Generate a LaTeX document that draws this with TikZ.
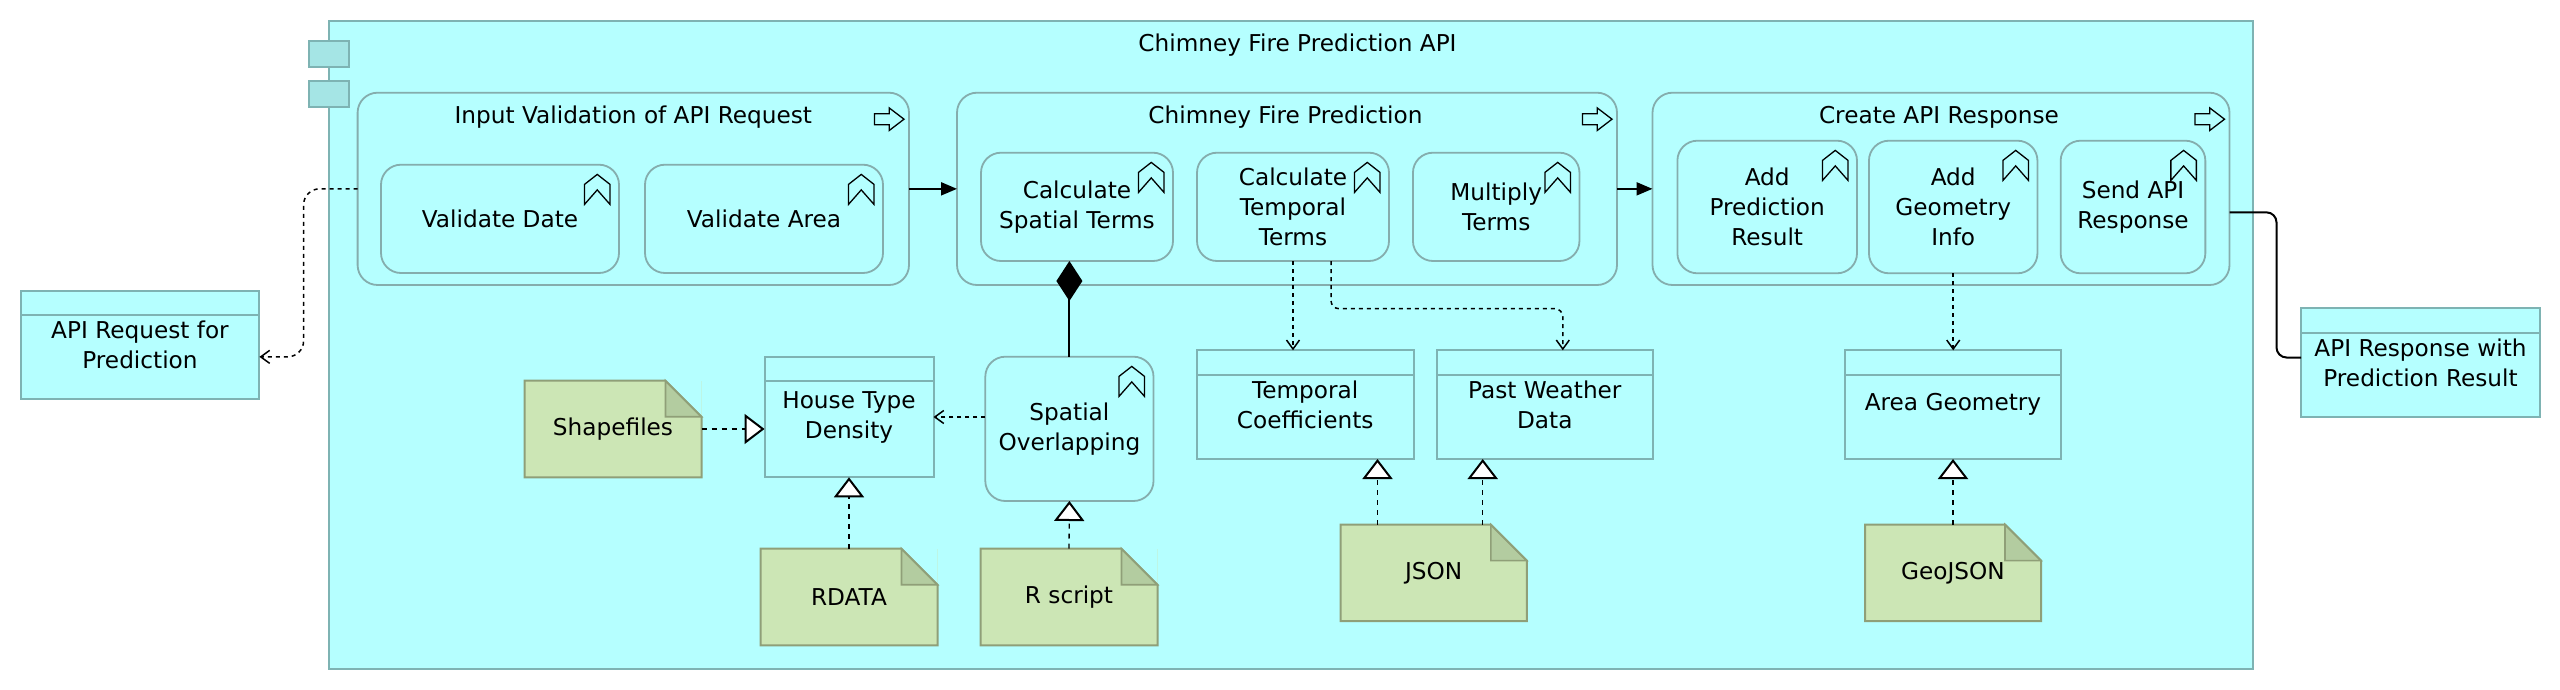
\documentclass[tikz,border=0pt]{standalone}
\usepackage{fontspec}
\setmainfont{DejaVu Sans}
\usetikzlibrary{arrows.meta}
\definecolor{compfill}{HTML}{B5FFFF}
\definecolor{compline}{HTML}{7EB3B3}
\definecolor{portfill}{HTML}{A5E5E5}
\definecolor{procline}{HTML}{85ADAD}
\definecolor{notefill}{HTML}{CCE6B5}
\definecolor{noteline}{HTML}{8F9F78}
\definecolor{notefold}{HTML}{B3CCA0}
\tikzset{
	chevron/.pic={
		\draw[line width=1.3pt] (0,10) -- (12.75,0) -- (25.5,10) -- (25.5,30) -- (12.75,15.5) -- (0,30) -- cycle;
	},
	flowicon/.pic={
		\draw[line width=1.3pt] (0,-5.5) -- (14.7,-5.5) -- (14.7,-11.3) -- (29.5,0) -- (14.7,11.3) -- (14.7,5.5) -- (0,5.5) -- cycle;
	},
}

\begin{document}
\begin{tikzpicture}[y=-1pt, x=1pt]
	\tikzstyle{every node}=[font=\fontsize{23.2}{30}\selectfont, inner sep=0pt, outer sep=0pt, align=center]
	\tikzstyle{comp}=[draw=compline, fill=compfill, line width=2pt]
	\tikzstyle{port}=[draw=compline, fill=portfill, line width=2pt, minimum width=40.5pt, minimum height=26.5pt]
	\tikzstyle{proc}=[draw=procline, fill=compfill, line width=1.8pt, rounded corners=20pt]
	\tikzstyle{databox}=[draw=compline, fill=compfill, line width=2pt]
	\tikzstyle{note}=[fill=notefill, minimum width=177pt, minimum height=96.6pt]
	\tikzstyle{dep}=[line width=1.5pt, dash pattern=on 4pt off 4pt, -{Straight Barb[length=9pt, width=13pt, line width=1.5pt]}]
	\tikzstyle{real}=[line width=1.3pt, dash pattern=on 5pt off 5pt, -{Triangle[open, length=20pt, width=30pt, fill=white, line width=2pt]}]
	\tikzstyle{trig}=[line width=2pt, -{Triangle[length=16pt, width=13pt]}]

	\useasboundingbox (0,0) rectangle (2560,690);

	%component
	\node[comp, minimum width=1924.5pt, minimum height=648pt, label={[anchor=center, xshift=6.5pt, yshift=-24pt]north:Chimney Fire Prediction API}] (api) at (1291,345) {};
	\node[port] (port a) at (329,54) {};
	\node[port] (port b) at (329,94) {};

	%processes
	\node[proc, minimum width=551.4pt, minimum height=192.3pt, label={[anchor=center, yshift=-24.5pt]north:Input Validation of API Request}] (validation) at (633.3,188.85) {};
	\node[proc, minimum width=660pt, minimum height=192.3pt, label={[anchor=center, yshift=-24.5pt, xshift=-1.5pt]north:Chimney Fire Prediction}] (prediction) at (1287,188.85) {};
	\node[proc, minimum width=577pt, minimum height=192.3pt, label={[anchor=center, yshift=-24.5pt, xshift=-2pt]north:Create API Response}] (response) at (1941,188.85) {};

	%sub processes
	\node[proc, minimum width=238pt, minimum height=108.3pt] (val date) at (500,218.85) {Validate Date};
	\node[proc, minimum width=238pt, minimum height=108.3pt] (val area) at (764,218.85) {Validate Area};
	\node[proc, minimum width=192pt, minimum height=108.3pt] (calc spatial) at (1077,206.85) {Calculate\\Spatial Terms};
	\node[proc, minimum width=192pt, minimum height=108.3pt] (calc temporal) at (1293,206.85) {Calculate\\Temporal\\Terms};
	\node[proc, minimum width=166.5pt, minimum height=108.3pt] (multiply) at (1496.2,206.85) {Multiply\\Terms};
	\node[proc, minimum width=179.6pt, minimum height=132.6pt] (add result) at (1767.2,207) {Add\\Prediction\\Result};
	\node[proc, minimum width=168.5pt, minimum height=132.6pt] (add geometry) at (1953.2,207) {Add\\Geometry\\Info};
	\node[proc, minimum width=144.7pt, minimum height=132.6pt] (send response) at (2133,207) {Send API\\Response};
	\node[proc, minimum width=168.2pt, minimum height=144.3pt] (overlap) at (1069.4,428.85) {Spatial\\Overlapping};

	%data objects
	\node[databox, minimum width=238.8pt, minimum height=108.3pt] (api request) at (140,344.85) {API Request for\\Prediction};
	\node[databox, minimum width=239pt, minimum height=108.4pt] (api result) at (2420.5,362.5) {API Response with\\Prediction Result};
	\node[databox, minimum width=169pt, minimum height=120.6pt] (density) at (849,417) {House Type\\Density};
	\node[databox, minimum width=216.7pt, minimum height=108.7pt] (coefficients) at (1305.2,404.65) {Temporal\\Coefficients};
	\node[databox, minimum width=215.8pt, minimum height=108.7pt] (weather) at (1544.8,404.65) {Past Weather\\Data};
	\node[databox, minimum width=216pt, minimum height=108.7pt] (geometry) at (1953,404.65) {Area Geometry};
	\foreach \n in {api request,api result,density,coefficients,weather,geometry}
		\draw[draw=compline, line width=2pt] ([yshift=-24.3pt]\n.north west) -- ([yshift=-24.3pt]\n.north east);

	%artifacts
	\node[note] (shapefiles) at (613,429) {Shapefiles};
	\node[note] (rdata) at (849,597) {RDATA};
	\node[note] (rscript) at (1069,597) {R script};
	\node[note, minimum width=186.2pt] (json) at (1433.7,572.85) {JSON};
	\node[note, minimum width=176pt] (geojson) at (1953,572.85) {GeoJSON};
	\foreach \n in {shapefiles,rdata,rscript,json,geojson} {
		\fill[compfill] ([xshift=-36pt]\n.north east) -- (\n.north east) -- ([yshift=-36pt]\n.north east) -- cycle;
		\filldraw[draw=noteline, fill=notefold, line width=1.6pt] ([xshift=-36pt]\n.north east) -- ([yshift=-36pt]\n.north east) -- ([xshift=-36pt, yshift=-36pt]\n.north east) -- cycle;
		\draw[draw=noteline, line width=2pt] (\n.north west) -- ([xshift=-36pt]\n.north east) -- ([yshift=-36pt]\n.north east) -- (\n.south east) -- (\n.south west) -- cycle;
	}

	%icons
	\foreach \n in {val date,val area,calc spatial,calc temporal,multiply,add result,add geometry,send response,overlap}
		\pic at ([shift={(-34.5,9.7)}]\n.north east) {chevron};
	\foreach \n in {validation,prediction,response}
		\pic at ([shift={(-34.5,26.5)}]\n.north east) {flowicon};

	%flows
	\draw[trig] (validation) -- (prediction);
	\draw[trig] (prediction) -- (response);
	\draw[line width=1.5pt, dash pattern=on 4pt off 4pt, rounded corners=16pt, -{Straight Barb[length=9pt, width=13pt, line width=1.5pt]}] (validation.west) -- ++(-54,0) |- ([yshift=-12pt]api request.east);
	\draw[line width=2pt, rounded corners=10pt] ([yshift=-23.5pt]response.east) -- ++(47,0) |- ([yshift=5pt]api result.west);

	%composition
	\draw[line width=2pt, -{Diamond[length=40pt, width=26pt]}] (overlap.north) -- (overlap.north |- calc spatial.south);

	%accesses
	\draw[dep] (overlap.west |- density.east) -- (density.east);
	\draw[dep] (calc temporal.south) -- (calc temporal.south |- coefficients.north);
	\draw[dep, rounded corners=8pt] ([xshift=38pt]calc temporal.south) -- ++(0,47.7) -| ([xshift=18pt]weather.north);
	\draw[dep] (add geometry.south) -- (add geometry.south |- geometry.north);

	%realizations
	\draw[real] (shapefiles.east) -- (shapefiles.east -| density.west);
	\draw[real] (rdata.north) -- (density.south);
	\draw[real] (rscript.north) -- (overlap.south);
	\draw[real] ([xshift=-56.2pt]json.north) -- ([xshift=-56.2pt]json.north |- coefficients.south);
	\draw[real] ([xshift=49pt]json.north) -- ([xshift=49pt]json.north |- weather.south);
	\draw[real] (geojson.north) -- (geometry.south);
\end{tikzpicture}
\end{document}
